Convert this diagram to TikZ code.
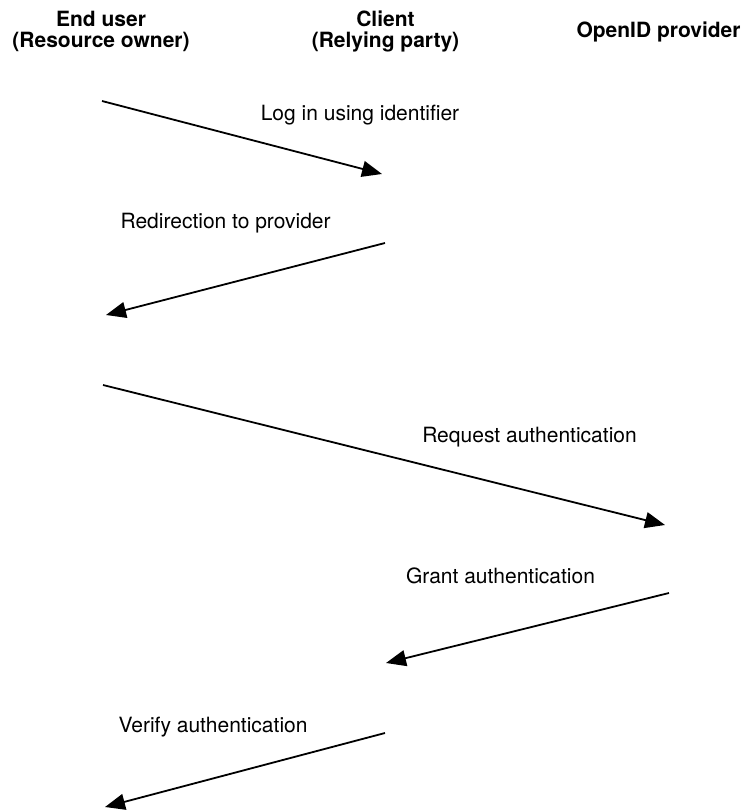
\documentclass[tikz,border=0pt]{standalone}
\usepackage{fontspec}
\setmainfont{TeX Gyre Heros}
\usetikzlibrary{arrows.meta}

\tikzset{
  party/.style={font=\fontsize{21}{21}\selectfont\bfseries, align=center, anchor=base, inner sep=0pt},
  msglabel/.style={font=\fontsize{21}{21}\selectfont, anchor=base, inner sep=0pt},
  msgarrow/.style={line width=1.8pt, -{Triangle[length=20pt, width=16pt]}}
}

\begin{document}
\begin{tikzpicture}[x=1pt, y=-1pt]
  \useasboundingbox (0,0) rectangle (743,810);

  % Parties (column headers)
  \node[party] (user) at (101,48) {End user\\(Resource owner)};
  \node[party] (client) at (385.5,48) {Client\\(Relying party)};
  \node[party] (provider) at (658.5,38) {OpenID provider};

  % Message end points
  \coordinate (u1) at (102,101);  \coordinate (c1) at (382,174);
  \coordinate (c2) at (385,243);  \coordinate (u2) at (106,315);
  \coordinate (u3) at (103,385);  \coordinate (p3) at (665,525);
  \coordinate (p4) at (669,593);  \coordinate (c4) at (386,663);
  \coordinate (c5) at (385,733);  \coordinate (u5) at (105,807);

  % Messages
  \draw[msgarrow] (u1) -- (c1);
  \node[msglabel] (login) at (360,121) {Log in using identifier};

  \draw[msgarrow] (c2) -- (u2);
  \node[msglabel] (redirect) at (225.6,229) {Redirection to provider};

  \draw[msgarrow] (u3) -- (p3);
  \node[msglabel] (request) at (529.5,442) {Request authentication};

  \draw[msgarrow] (p4) -- (c4);
  \node[msglabel] (grant) at (500.5,583) {Grant authentication};

  \draw[msgarrow] (c5) -- (u5);
  \node[msglabel] (verify) at (213,732) {Verify authentication};
\end{tikzpicture}
\end{document}
